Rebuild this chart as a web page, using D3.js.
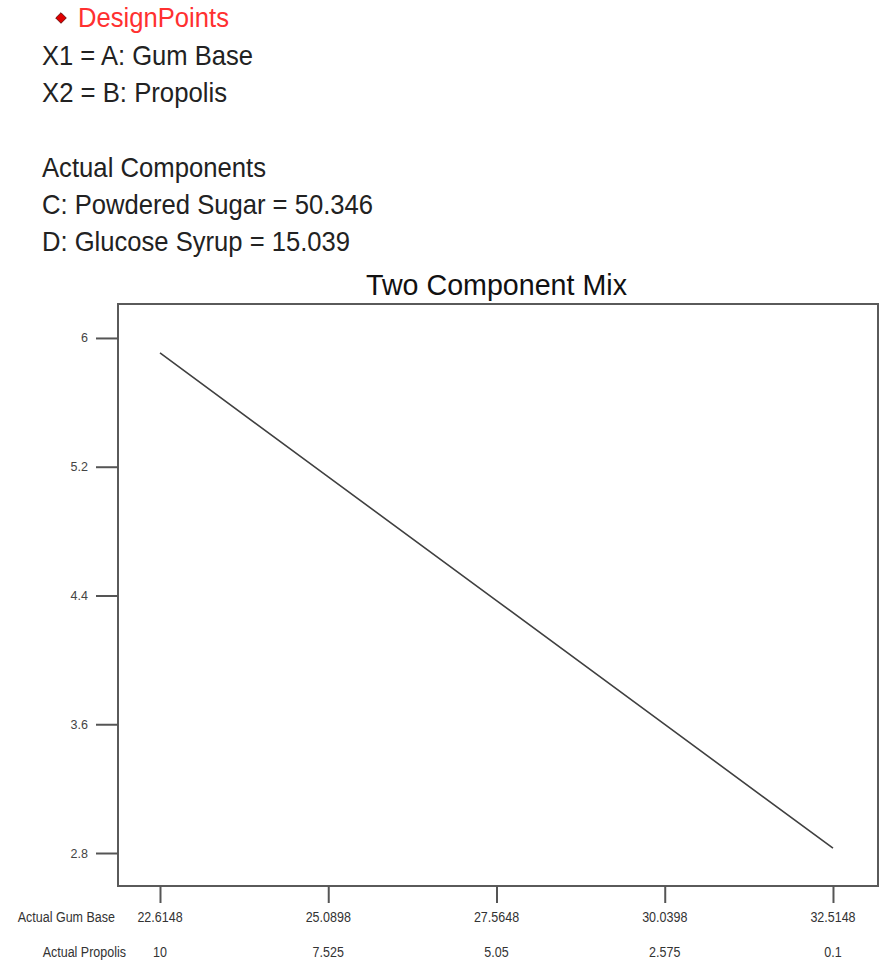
<!DOCTYPE html>
<html>
<head>
<meta charset="utf-8">
<script src="https://cdn.jsdelivr.net/npm/d3@7/dist/d3.min.js"></script>
<style>
  html, body { margin: 0; padding: 0; background: #fff; }
  svg { display: block; }
  text { font-family: "Liberation Sans", Arial, sans-serif; }
</style>
</head>
<body>
<svg id="chart" width="890" height="964"></svg>
<script>
// Component settings along the two-component mixture axis
const gumBase = [22.6148, 25.0898, 27.5648, 30.0398, 32.5148];
const propolis = [10, 7.525, 5.05, 2.575, 0.1];
// Predicted response along the blend line
const response = [5.907, 5.137, 4.368, 3.599, 2.83];
const yTicks = [2.8, 3.6, 4.4, 5.2, 6];
const headerLines = [
  "X1 = A: Gum Base",
  "X2 = B: Propolis",
  "",
  "Actual Components",
  "C: Powdered Sugar = 50.346",
  "D: Glucose Syrup = 15.039"
];
const headerWidths = [211, 185, 0, 224, 331, 308];

const svg = d3.select("#chart");
const plot = { left: 118, right: 878, top: 304, bottom: 886 };

const x = d3.scaleLinear().domain([21.997, 33.177]).range([plot.left, plot.right]);
const y = d3.scaleLinear().domain([2.595, 6.211]).range([plot.bottom, plot.top]);

// Tall, narrow lettering: text placed at (px, py) and stretched vertically
function tallText(px, py, sy) {
  return svg.append("text")
    .attr("transform", `translate(${px},${py}) scale(1,${sy})`);
}

// Legend entry for design points
svg.append("path")
  .attr("d", d3.symbol().type(d3.symbolSquare).size(56)())
  .attr("transform", "translate(61,18) rotate(45)")
  .attr("fill", "#e00000")
  .attr("stroke", "#500")
  .attr("stroke-width", 0.8);
tallText(78, 27, 1.12)
  .attr("font-size", 24)
  .attr("fill", "#ff3030")
  .attr("textLength", 151).attr("lengthAdjust", "spacingAndGlyphs")
  .text("DesignPoints");

// Factor and fixed-component notes
headerLines.forEach((t, i) => {
  if (!t) return;
  tallText(42, 65 + i * 37.2, 1.12)
    .attr("font-size", 24)
    .attr("fill", "#222")
    .attr("textLength", headerWidths[i]).attr("lengthAdjust", "spacingAndGlyphs")
    .text(t);
});

// Title
tallText(366, 295, 1.12)
  .attr("font-size", 27)
  .attr("fill", "#111")
  .attr("textLength", 261).attr("lengthAdjust", "spacingAndGlyphs")
  .text("Two Component Mix");

// Plot frame
svg.append("rect")
  .attr("x", plot.left).attr("y", plot.top)
  .attr("width", plot.right - plot.left).attr("height", plot.bottom - plot.top)
  .attr("fill", "none")
  .attr("stroke", "#5a5a5a")
  .attr("stroke-width", 2);

// Y axis
const yAxis = d3.axisLeft(y).tickValues(yTicks).tickSize(22).tickPadding(8)
  .tickFormat(d3.format("~g"));
const gy = svg.append("g").attr("transform", `translate(${plot.left},0)`).call(yAxis);
gy.select(".domain").remove();
gy.selectAll(".tick line").attr("stroke", "#555").attr("stroke-width", 2);
gy.selectAll(".tick text").attr("font-size", 12.5).attr("fill", "#444")
  .attr("font-family", "'Liberation Sans', Arial, sans-serif");

// X axis: tick marks below the frame
const xAxis = d3.axisBottom(x).tickValues(gumBase).tickSize(17).tickFormat("");
const gx = svg.append("g").attr("transform", `translate(0,${plot.bottom})`).call(xAxis);
gx.select(".domain").remove();
gx.selectAll(".tick line").attr("stroke", "#555").attr("stroke-width", 2);

// Two rows of tick labels
const rows = [
  { name: "Actual Gum Base", vals: gumBase.map(String), y: 922, nameEnd: 115 },
  { name: "Actual Propolis", vals: propolis.map(String), y: 957, nameEnd: 126 }
];
rows.forEach(r => {
  tallText(r.nameEnd, r.y, 1.15)
    .attr("text-anchor", "end")
    .attr("font-size", 12.5).attr("fill", "#333")
    .text(r.name);
  gumBase.forEach((g, i) => {
    tallText(x(g), r.y, 1.15)
      .attr("text-anchor", "middle")
      .attr("font-size", 12.5).attr("fill", "#333")
      .text(r.vals[i]);
  });
});

// Response line
svg.append("path")
  .datum(gumBase.map((g, i) => [g, response[i]]))
  .attr("d", d3.line().x(d => x(d[0])).y(d => y(d[1])))
  .attr("fill", "none")
  .attr("stroke", "#404040")
  .attr("stroke-width", 1.6);
</script>
</body>
</html>
